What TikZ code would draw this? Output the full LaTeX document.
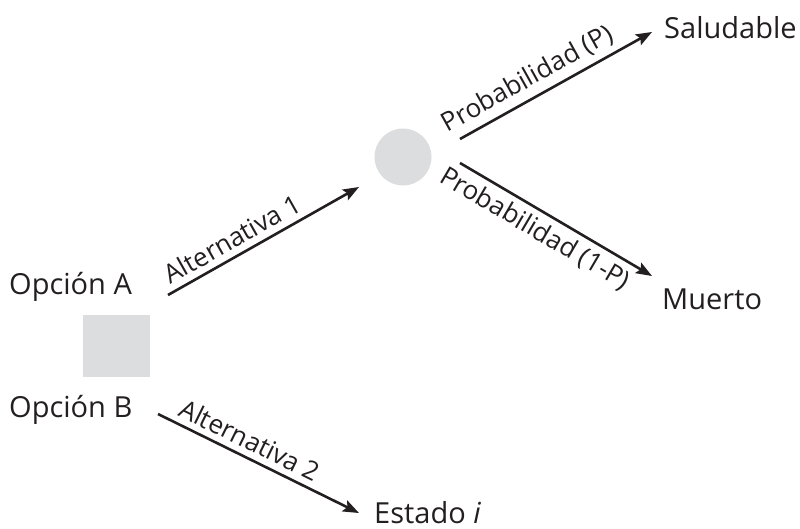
\documentclass[tikz,border=0pt]{standalone}
\usepackage{fontspec}
\setmainfont{Open Sans}
\usetikzlibrary{arrows.meta}
\definecolor{nodegray}{HTML}{DCDDDE}
\definecolor{ink}{HTML}{231F20}
\tikzset{
  lbl/.style={font=\fontsize{29}{33}\selectfont, text=ink, inner sep=0pt, anchor=base west},
  edgelbl/.style={font=\fontsize{26}{30}\selectfont, text=ink, sloped, inner sep=6pt},
  arr/.style={draw=ink, line width=2.6pt, -{Stealth[length=16pt,width=12pt,inset=3pt]}},
  choice/.style={fill=nodegray, minimum width=67pt, minimum height=62pt, inner sep=0pt},
  chance/.style={circle, fill=nodegray, minimum size=57pt, inner sep=0pt}
}
\begin{document}
\begin{tikzpicture}[x=1pt, y=-1pt]
\useasboundingbox (0,0) rectangle (800,528);
% decision and chance nodes
\node[choice] (dec) at (116.5,346) {};
\node[chance] (chn) at (403,157) {};
% outcome labels
\node[lbl] (optA) at (9,294) {Opción A};
\node[lbl] (optB) at (9,417) {Opción B};
\node[lbl] (sano) at (664,38) {Saludable};
\node[lbl] (muerto) at (662,309) {Muerto};
\node[lbl] (estado) at (374,523) {Estado \textit{i}};
% arrow end points
\coordinate (a1s) at (168,295);
\coordinate (a1e) at (359,187);
\coordinate (pAs) at (460,139);
\coordinate (pAe) at (652,32);
\coordinate (pBs) at (460,163);
\coordinate (pBe) at (652,276);
\coordinate (a2s) at (158,414);
\coordinate (a2e) at (359,513);
% branches
\draw[arr] (a1s) -- node[edgelbl, above, pos=0.38] {Alternativa 1} (a1e);
\draw[arr] (pAs) -- node[edgelbl, above, pos=0.40] {Probabilidad (P)} (pAe);
\draw[arr] (pBs) -- node[edgelbl, below, pos=0.44] {Probabilidad (1-P)} (pBe);
\draw[arr] (a2s) -- node[edgelbl, above, pos=0.42] {Alternativa 2} (a2e);
\end{tikzpicture}
\end{document}
